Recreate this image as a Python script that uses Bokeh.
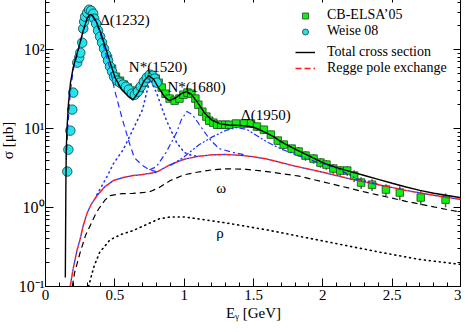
from bokeh.plotting import figure
from bokeh.models import (Range1d, LogAxis, LinearAxis, LogTicker, SingleIntervalTicker,
                          CustomJSTickFormatter, Label, Legend, LegendItem, ColumnDataSource)
from bokeh.embed import file_html
from bokeh.resources import INLINE

FONT = "Liberation Serif"

x_ticks = [0, 0.5, 1, 1.5, 2, 2.5, 3]
x_tick_labels = ["0", "0.5", "1", "1.5", "2", "2.5", "3"]
y_ticks = [0.1, 1, 10, 100]
y_tick_labels = ["10\u207b\u00b9", "10\u2070", "10\u00b9", "10\u00b2"]

total_E = [0.143, 0.145, 0.147, 0.150, 0.155, 0.165, 0.180, 0.200, 0.236, 0.270, 0.300, 0.322,
           0.340, 0.370, 0.400, 0.430, 0.465, 0.500, 0.550, 0.600, 0.630, 0.670, 0.710, 0.745,
           0.780, 0.820, 0.860, 0.895, 0.940, 0.980, 1.016, 1.050, 1.100, 1.150, 1.200, 1.260,
           1.320, 1.400, 1.450, 1.500, 1.550, 1.600, 1.650, 1.700, 1.800, 1.900, 2.000, 2.100,
           2.200, 2.300, 2.400, 2.500, 2.600, 2.700, 2.800, 2.900, 3.000]
total_s = [0.13, 0.5, 2.0, 5.5, 10, 20, 38, 60, 100, 170, 250, 280,
           270, 220, 160, 110, 70, 45, 31, 25.4, 23, 29, 40, 47,
           42, 32, 25, 22.6, 24.6, 27.7, 29.4, 27.5, 21, 15.5, 12.8, 11.5,
           11.1, 11.0, 10.8, 10.4, 9.6, 8.7, 7.8, 6.8, 5.5, 4.5, 3.7, 3.2,
           2.85, 2.55, 2.28, 2.03, 1.82, 1.65, 1.52, 1.42, 1.33]

regge_E = [0.178, 0.200, 0.228, 0.250, 0.272, 0.300, 0.330, 0.372, 0.430, 0.490, 0.560, 0.630,
           0.700, 0.800, 0.900, 1.000, 1.100, 1.200, 1.300, 1.400, 1.500, 1.600, 1.800, 2.000,
           2.200, 2.400, 2.600, 2.800, 3.000]
regge_s = [0.10, 0.17, 0.29, 0.40, 0.59, 0.85, 1.1, 1.42, 1.85, 2.2, 2.4, 2.54,
           2.62, 2.8, 3.5, 4.1, 4.45, 4.65, 4.7, 4.6, 4.4, 4.1, 3.35, 2.8,
           2.3, 1.95, 1.65, 1.43, 1.26]

omega_E = [0.193, 0.210, 0.250, 0.290, 0.322, 0.360, 0.390, 0.430, 0.465, 0.550, 0.630, 0.750,
           0.820, 0.900, 1.000, 1.090, 1.200, 1.300, 1.450, 1.600, 1.830, 2.060, 2.300, 2.600,
           2.800, 3.000]
omega_s = [0.10, 0.15, 0.27, 0.45, 0.59, 0.82, 1.0, 1.25, 1.42, 1.5, 1.51, 1.58,
           1.79, 2.2, 2.6, 2.8, 3.0, 3.1, 3.05, 2.85, 2.5, 2.0, 1.58, 1.2,
           1.02, 0.87]

rho_E = [0.310, 0.350, 0.390, 0.465, 0.550, 0.630, 0.720, 0.820, 0.900, 1.000, 1.100, 1.300,
         1.600, 2.060, 2.420, 2.700, 3.000]
rho_s = [0.10, 0.18, 0.27, 0.39, 0.46, 0.51, 0.60, 0.72, 0.76, 0.76, 0.72, 0.64,
         0.52, 0.36, 0.27, 0.22, 0.19]

d1232_E = [0.150, 0.160, 0.180, 0.200, 0.236, 0.270, 0.300, 0.322, 0.340, 0.370, 0.400, 0.430,
           0.465, 0.500, 0.550, 0.600, 0.640, 0.700, 0.750, 0.800]
d1232_s = [4, 10, 30, 55, 98, 165, 245, 275, 262, 210, 150, 95,
           58, 30, 14, 7, 4.3, 3.4, 3.0, 2.85]

n1520_E = [0.370, 0.440, 0.490, 0.560, 0.630, 0.700, 0.730, 0.755, 0.800, 0.870, 0.945, 1.000,
           1.050, 1.100]
n1520_s = [1.45, 2.4, 3.6, 5.4, 9.7, 17.4, 29, 42, 28.6, 13, 6.7, 5.0,
           4.6, 4.45]

n1680_E = [0.750, 0.800, 0.870, 0.945, 0.980, 1.020, 1.060, 1.110, 1.180, 1.250, 1.350, 1.450]
n1680_s = [3.0, 3.3, 5.0, 8.9, 13, 16.5, 15, 11.2, 7.5, 5.6, 5.0, 4.6]

d1950_E = [0.900, 1.000, 1.110, 1.200, 1.300, 1.380, 1.450, 1.590, 1.700, 1.830, 1.950, 2.090,
           2.250, 2.400]
d1950_s = [3.4, 4.4, 6.3, 7.8, 9.5, 10.3, 9.8, 6.9, 5.5, 4.5, 3.8, 3.2,
           2.3, 1.98]

weise_E = [0.157, 0.165, 0.179, 0.193, 0.200, 0.229, 0.243, 0.251, 0.265, 0.272, 0.279, 0.286,
           0.301, 0.315, 0.329, 0.344, 0.351, 0.365, 0.379, 0.394, 0.408, 0.422, 0.437, 0.451,
           0.465, 0.480, 0.494, 0.515, 0.537, 0.558, 0.580, 0.601, 0.623, 0.644, 0.666, 0.687,
           0.709, 0.730, 0.752, 0.773, 0.787, 0.802]
weise_s = [2.86, 5.42, 9.43, 17.4, 28.6, 68.5, 79.3, 91.6, 122.6, 184.7, 226, 261.6,
           294, 320.7, 311.6, 285.7, 246.8, 213.2, 174, 146, 122.6, 103, 86.5, 72.6,
           61, 52.7, 45.5, 40.5, 38.2, 36.1, 34, 31.2, 27.7, 26.9, 29.4, 34,
           39.4, 44.2, 48.3, 46.9, 43, 38.2]

cb_E = [0.451, 0.480, 0.508, 0.537, 0.565, 0.594, 0.623, 0.651, 0.680, 0.709, 0.737, 0.766,
        0.795, 0.816, 0.838, 0.866, 0.895, 0.931, 0.966, 0.995, 1.024, 1.052, 1.081, 1.102,
        1.131, 1.160, 1.181, 1.210, 1.238, 1.267, 1.296, 1.324, 1.374, 1.432, 1.482, 1.525,
        1.575, 1.625, 1.675, 1.718, 1.775, 1.825, 1.875, 1.933, 1.983, 2.026, 2.076, 2.126,
        2.176, 2.226, 2.276, 2.355, 2.455, 2.555, 2.706, 2.885]
cb_s = [76.9, 57.4, 45.5, 40.5, 36.1, 33.1, 30.3, 28.6, 32.1, 38.2, 44.2, 45.5,
        43, 38.2, 33.1, 27.7, 24, 22.6, 24, 26.9, 28.6, 27.7, 24, 20.1,
        16.4, 14.2, 12.6, 11.9, 11.2, 11.2, 11.2, 11.2, 11.6, 11.6, 11.6, 10.6,
        9.7, 8.4, 7.05, 6.27, 5.58, 5.12, 4.55, 4.17, 3.71, 3.50, 3.12, 2.94,
        2.94, 2.54, 2.07, 1.95, 1.69, 1.55, 1.34, 1.26]
cb_err_pct = [7, 7, 7, 7, 7, 7, 7, 7, 7, 7, 7, 7,
              7, 7, 7, 7, 7, 7, 7, 7, 9, 9, 9, 9,
              9, 9, 9, 9, 9, 9, 9, 12, 12, 12, 12, 12,
              12, 12, 12, 12, 12, 14, 14, 14, 14, 14, 14, 14,
              14, 17, 17, 17, 17, 20, 20, 20]

# ---------------- figure ----------------
p = figure(width=465, height=330, x_range=Range1d(0, 3), y_range=Range1d(0.1, 500),
           y_axis_type="log", output_backend="svg", toolbar_location=None,
           min_border_left=41, min_border_right=0, min_border_top=0, min_border_bottom=38)
p.styles = {"margin-left": "-4px", "margin-top": "-6px", "margin-bottom": "-20px"}
p.grid.visible = False
p.outline_line_color = "black"
p.outline_line_width = 1
p.background_fill_color = "white"
p.border_fill_color = "white"

xfmt = CustomJSTickFormatter(args=dict(tvals=x_ticks, tlabels=x_tick_labels), code="""
for (let i = 0; i < tvals.length; i++) { if (Math.abs(tick - tvals[i]) < 1e-6) return tlabels[i]; }
return "";
""")
yfmt = CustomJSTickFormatter(args=dict(tvals=y_ticks, tlabels=y_tick_labels), code="""
for (let i = 0; i < tvals.length; i++) { if (Math.abs(Math.log10(tick) - Math.log10(tvals[i])) < 1e-6) return tlabels[i]; }
return "";
""")
blankfmt = CustomJSTickFormatter(code="return ' ';")

def style_axis(ax, show_labels):
    ax.major_tick_in = 8
    ax.major_tick_out = 0
    ax.minor_tick_in = 4
    ax.minor_tick_out = 0
    ax.axis_line_color = "black"
    ax.major_tick_line_color = "black"
    ax.minor_tick_line_color = "black"
    ax.major_label_text_font = FONT
    ax.major_label_text_color = "black"
    ax.axis_label_text_font = FONT
    ax.axis_label_text_font_style = "normal"
    ax.axis_label_text_color = "black"
    if show_labels:
        ax.major_label_text_font_size = "15px"
        ax.axis_label_text_font_size = "15px"
    else:
        ax.formatter = blankfmt
        ax.major_label_text_font_size = "1px"
        ax.major_label_text_alpha = 0
        ax.major_label_standoff = 0

xa = p.xaxis[0]
xa.ticker = SingleIntervalTicker(interval=0.5, num_minor_ticks=5)
xa.formatter = xfmt
xa.axis_label = "E\u1d67 [GeV]"
style_axis(xa, True)
xa.major_label_standoff = 3
xa.axis_label_standoff = 2

ya = p.yaxis[0]
ya.ticker = LogTicker(num_minor_ticks=10)
ya.formatter = yfmt
ya.axis_label = "\u03c3 [\u03bcb]"
style_axis(ya, True)
ya.major_label_text_font_size = "16px"
ya.major_label_standoff = 1
ya.axis_label_standoff = 0

top = LinearAxis(ticker=SingleIntervalTicker(interval=0.5, num_minor_ticks=5))
style_axis(top, False)
p.add_layout(top, "above")
right = LogAxis(ticker=LogTicker(num_minor_ticks=10))
style_axis(right, False)
p.add_layout(right, "right")

lo = [s * (1 - e / 100.0) for s, e in zip(cb_s, cb_err_pct)]
hi = [s * (1 + e / 100.0) for s, e in zip(cb_s, cb_err_pct)]
cb_src = ColumnDataSource(dict(E=cb_E, s=cb_s, lo=lo, hi=hi))
p.segment(x0="E", y0="lo", x1="E", y1="hi", source=cb_src, line_color="#555555", line_width=1.5)
sq = p.scatter(x="E", y="s", source=cb_src, marker="square", size=7.5,
               fill_color="#11ee11", line_color="#1a4a1a", line_width=0.8)
ci = p.scatter(x=weise_E, y=weise_s, marker="circle", size=9.5,
               fill_color="#22e4ea", line_color="#103a40", line_width=0.8)

BLUE = "#2030ff"
p.line(rho_E, rho_s, line_color="black", line_width=1.6, line_dash="1 4", line_cap="round")
p.line(omega_E, omega_s, line_color="black", line_width=1.2, line_dash="6 4")
rg = p.line(regge_E, regge_s, line_color="#ff1a1a", line_width=1.5, line_dash="6 3")
p.line(regge_E, regge_s, line_color=BLUE, line_width=1.3, line_dash="3 6", line_dash_offset=3)
p.line(d1232_E, d1232_s, line_color=BLUE, line_width=1.2, line_dash="6 4")
p.line(n1520_E, n1520_s, line_color=BLUE, line_width=1.6, line_dash="1 4", line_cap="round")
p.line(n1680_E, n1680_s, line_color=BLUE, line_width=1.2, line_dash="6 3 2 3")
p.line(d1950_E, d1950_s, line_color=BLUE, line_width=1.2, line_dash="6 2 2 2 2 2")
tot = p.line(total_E, total_s, line_color="black", line_width=1.4)

for txt, xx, yy in [("\u0394(1232)", 0.394, 240), ("N*(1520)", 0.601, 61),
                    ("N*(1680)", 0.880, 34), ("\u0394(1950)", 1.41, 14.8),
                    ("\u03c9", 1.231, 1.79), ("\u03c1", 1.231, 0.475)]:
    p.add_layout(Label(x=xx, y=yy, text=txt, text_font=FONT, text_font_size="15px",
                       text_color="black", text_baseline="alphabetic", text_align="left"))

def make_legend(items, loc, h):
    lg = Legend(items=items, location=loc, orientation="vertical", padding=0, margin=0,
                spacing=0, glyph_width=20, glyph_height=h, label_height=h, label_standoff=12,
                label_text_font=FONT, label_text_font_size="14px", label_text_color="black",
                border_line_alpha=0, background_fill_alpha=0)
    return lg

leg1 = make_legend([LegendItem(label="CB-ELSA\u201905", renderers=[sq]),
                    LegendItem(label="Weise 08", renderers=[ci])], (250, 247), 15)
leg2 = make_legend([LegendItem(label="Total cross section", renderers=[tot]),
                    LegendItem(label="Regge pole exchange", renderers=[rg])], (250, 210), 14)
p.add_layout(leg1)
p.add_layout(leg2)

open("out.html", "w").write(file_html(p, INLINE))
